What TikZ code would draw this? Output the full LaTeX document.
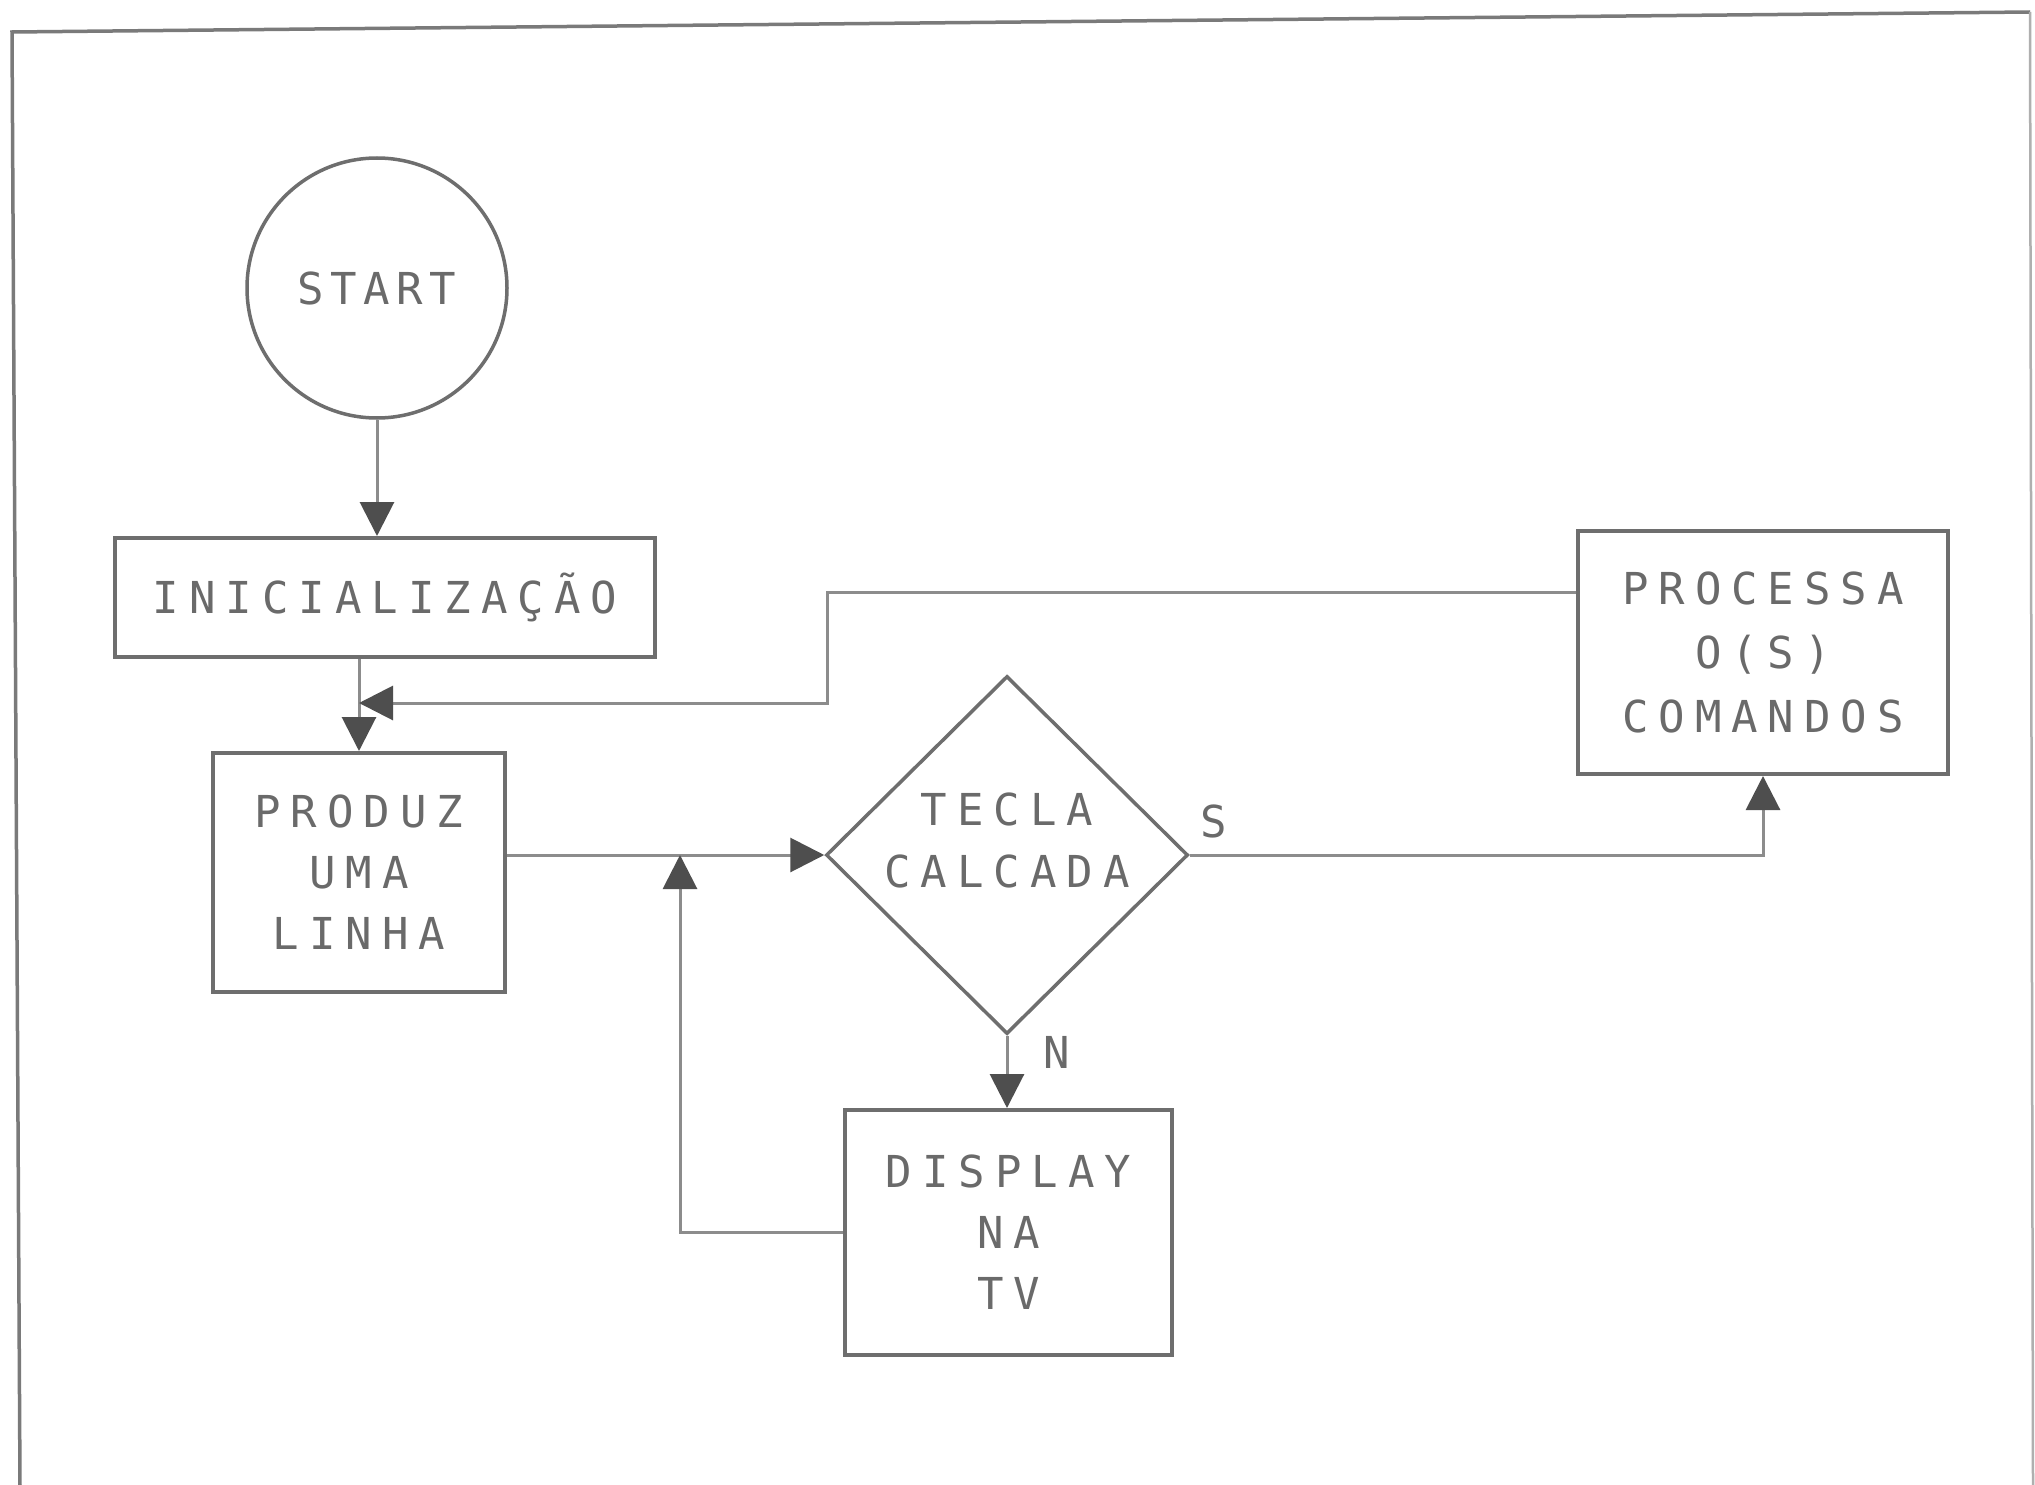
\documentclass[tikz,border=0pt]{standalone}
\usepackage{fontspec}
\usetikzlibrary{shapes.geometric,arrows.meta,calc}
\newfontfamily\lblfont[LetterSpace=22.7]{DejaVu Sans Mono}
\newfontfamily\startfont[LetterSpace=15]{DejaVu Sans Mono}
\definecolor{ink}{HTML}{6E6E6E}
\definecolor{txt}{HTML}{6A6A6A}
\definecolor{connc}{HTML}{8C8C8C}
\definecolor{tipc}{HTML}{4E4E4E}
\definecolor{framec}{HTML}{7A7A7A}
\begin{document}
\begin{tikzpicture}[x=1pt,y=-1pt,
  box/.style={draw=ink,line width=4pt,rectangle,inner sep=0pt,text=txt,align=center,
    font=\lblfont\fontsize{44pt}{61pt}\selectfont},
  lbl/.style={text=txt,inner sep=0pt,align=center,font=\lblfont\fontsize{44pt}{62pt}\selectfont},
  conn/.style={draw=connc,line width=3pt,-{Triangle[length=34pt,width=34pt,color=tipc]}},
  plainconn/.style={draw=connc,line width=3pt}]
\useasboundingbox (0,0) rectangle (2035,1485);
\fill[white] (0,0) rectangle (2035,1485);
% frame
\draw[framec,line width=3.5pt] (20,1485) -- (12,32) -- (2030,12);
\draw[framec!60,line width=2.5pt] (2030,12) -- (2033,1485);
% nodes
\node[circle,draw=ink,line width=3.5pt,minimum size=260pt,inner sep=0pt,text=txt,
  font=\startfont\fontsize{44pt}{60pt}\selectfont] (start) at (377,288) {START};
\node[box,minimum width=540pt,minimum height=119pt] (init) at (385,597.5) {INICIALIZAÇÃO};
\node[box,minimum width=292pt,minimum height=239pt] (prod) at (359,872.5) {PRODUZ\\UMA\\LINHA};
\node[diamond,draw=ink,line width=3.5pt,minimum width=362pt,minimum height=358pt,inner sep=0pt] (dec) at (1007,855) {};
\node[lbl] (dectext) at ([yshift=15pt]dec.center) {TECLA\\CALCADA};
\node[box,minimum width=370pt,minimum height=243pt,font=\lblfont\fontsize{44pt}{64pt}\selectfont] (proc) at (1763,652.5) {PROCESSA\\O(S)\\COMANDOS};
\node[box,minimum width=327pt,minimum height=245pt] (disp) at (1008.5,1232.5) {DISPLAY\\NA\\TV};
\node[lbl,font=\lblfont\fontsize{44pt}{60pt}\selectfont] (slbl) at (1214,821) {S};
\node[lbl,font=\lblfont\fontsize{44pt}{60pt}\selectfont] (nlbl) at (1057,1052) {N};
% helper coordinates
\coordinate (merge) at (359,703);
\coordinate (fbx) at (827,703);
\coordinate (merge2) at (680,855);
% connectors
\draw[conn] (start.south) -- (start.south |- init.north);
\draw[conn] (prod.north |- init.south) -- (prod.north);
\draw[conn] ([yshift=60pt]proc.west) -| (fbx) -- (merge);
\draw[conn] (prod.east |- dec.west) -- (dec.west);
\draw[conn] (dec.east) -| (proc.south);
\draw[conn] (dec.south) -- (dec.south |- disp.north);
\draw[conn] (disp.west) -| (merge2);
\end{tikzpicture}
\end{document}
